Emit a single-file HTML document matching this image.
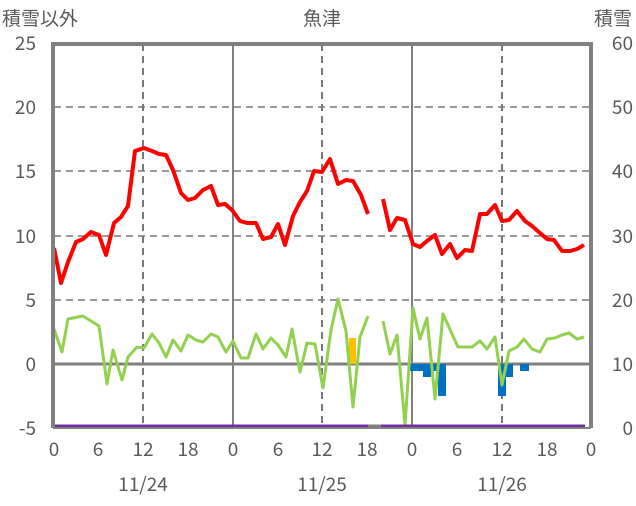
<!DOCTYPE html>
<html><head><meta charset="utf-8"><style>
body{margin:0;background:#fff}
text{font-family:"Noto Sans CJK JP","Liberation Sans",sans-serif;fill:#595959;font-size:19px}
</style></head><body>
<svg width="636" height="501" xmlns="http://www.w3.org/2000/svg">
<rect width="636" height="501" fill="#fff"/>
<g stroke="#999" stroke-width="2" stroke-dasharray="7,5">
<line x1="54" y1="107" x2="590" y2="107"/><line x1="54" y1="171" x2="590" y2="171"/>
<line x1="54" y1="236" x2="590" y2="236"/><line x1="54" y1="300" x2="590" y2="300"/>
</g>
<g stroke="#777" stroke-width="2" stroke-dasharray="7,5">
<line x1="143" y1="44" x2="143" y2="427"/><line x1="322" y1="44" x2="322" y2="427"/><line x1="502" y1="44" x2="502" y2="427"/>
</g>
<g stroke="#808080" stroke-width="2">
<line x1="233" y1="44" x2="233" y2="427"/><line x1="412" y1="44" x2="412" y2="427"/>
</g>
<line x1="54" y1="364" x2="590" y2="364" stroke="#808080" stroke-width="3"/>
<rect x="349" y="338" width="7" height="26" fill="#ffc000"/>
<g fill="#0070c0">
<rect x="410" y="364" width="13" height="7"/><rect x="423" y="364" width="8" height="13"/><rect x="431" y="364" width="7" height="7"/><rect x="438" y="364" width="8" height="32"/>
<rect x="498" y="364" width="8" height="32"/><rect x="506" y="364" width="7" height="13"/><rect x="520" y="364" width="9" height="7"/>
</g>
<g fill="none" stroke="#92d050" stroke-width="3" stroke-linejoin="round">
<polyline points="54,329 62,352 68,319 83,316 99,326 107,384 113,350 122,380 128,357 137,347 144,348 152,334 159,343 166,357 173,340 181,351 188,335 196,340 203,342 211,334 218,337 226,352 233,341 241,358 248,358 256,334 263,349 271,338 278,345 286,357 292,329 300,372 307,343 315,344 323,388 331,330 338,299 346,331 353,407 360,337 368,316"/>
<polyline points="383,321 390,354 397,335 405,425 413,308 420,339 427,318 435,399 443,314 458,347 472,347 480,341 487,349 495,337 502,385 509,351 517,347 524,339 532,349 540,352 547,339 555,338 562,335 569,333 577,339 584,337"/>
</g>
<g fill="none" stroke="#ff0000" stroke-width="4" stroke-linejoin="round">
<polyline points="54,248 61,283 68,262 76,242 83,239 91,232 99,235 106,255 114,223 121,217 128,206 135,151 144,148 152,151 159,154 166,155 173,170 181,193 188,200 195,198 203,190 211,186 218,205 225,204 232,210 240,221 247,223 256,223 263,239 271,237 278,224 285,245 293,216 300,202 307,191 314,171 322,172 330,159 338,184 346,180 353,181 361,195 368,214"/>
<polyline points="383,199 390,230 397,218 405,220 413,244 420,247 427,241 435,235 442,254 450,244 457,258 465,250 472,251 480,214 487,214 495,205 502,221 509,220 517,211 525,221 532,226 540,233 547,239 554,240 562,251 570,251 577,249 584,245"/>
</g>
<line x1="368" y1="426" x2="381" y2="426" stroke="#808080" stroke-width="3"/>
<g stroke="#7030a0" stroke-width="3"><line x1="55" y1="426" x2="368" y2="426"/><line x1="381" y1="426" x2="585" y2="426"/></g>
<path d="M53,428 V44 H591 V428" fill="none" stroke="#808080" stroke-width="4"/>
<line x1="53" y1="428" x2="591" y2="428" stroke="#808080" stroke-width="2"/>
<text x="2" y="25">積雪以外</text>
<text x="322" y="25" text-anchor="middle">魚津</text>
<text x="632" y="25" text-anchor="end">積雪</text>
<g text-anchor="end">
<text x="36" y="50">25</text><text x="36" y="114">20</text><text x="36" y="178">15</text><text x="36" y="243">10</text><text x="36" y="307">5</text><text x="36" y="371">0</text><text x="36" y="435">-5</text>
</g>
<g text-anchor="end">
<text x="633" y="50">60</text><text x="633" y="114">50</text><text x="633" y="178">40</text><text x="633" y="243">30</text><text x="633" y="307">20</text><text x="633" y="371">10</text><text x="633" y="435">0</text>
</g>
<g text-anchor="middle">
<text x="54" y="456">0</text><text x="98" y="456">6</text><text x="143" y="456">12</text><text x="188" y="456">18</text><text x="233" y="456">0</text><text x="278" y="456">6</text><text x="322" y="456">12</text><text x="367" y="456">18</text><text x="412" y="456">0</text><text x="457" y="456">6</text><text x="502" y="456">12</text><text x="547" y="456">18</text><text x="591" y="456">0</text>
<text x="143" y="491">11/24</text><text x="322" y="491">11/25</text><text x="502" y="491">11/26</text>
</g>
</svg>
</body></html>
